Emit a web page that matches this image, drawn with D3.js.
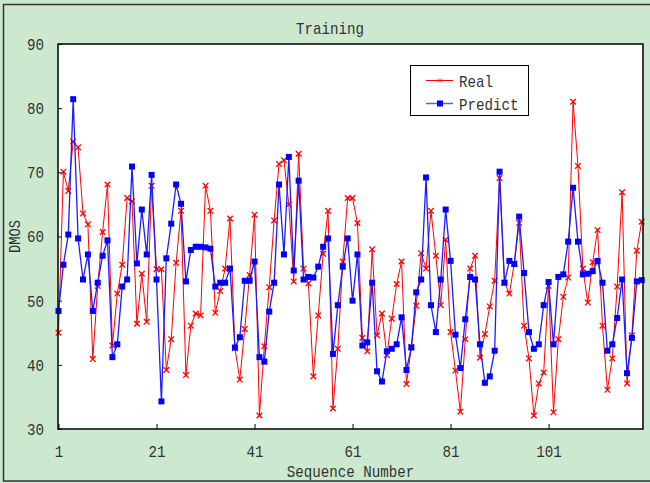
<!DOCTYPE html>
<html><head><meta charset="utf-8">
<script src="https://cdn.jsdelivr.net/npm/d3@7"></script>
<style>html,body{margin:0;padding:0;background:#cce8cf;overflow:hidden}</style>
</head><body>
<svg id="chart" width="650" height="483"></svg>
<script>
const seq = d3.range(1, 121);
const realValues = [45.0,70.1,67.1,74.8,73.9,63.6,61.9,40.9,52.3,60.7,68.1,43.0,51.1,55.6,66.0,65.5,46.4,54.2,46.7,67.9,
54.9,54.9,39.2,44.0,55.9,64.0,38.4,46.1,48.0,47.7,67.9,64.0,48.1,51.5,55.0,62.8,42.6,37.7,45.6,54.0,
63.4,32.1,42.9,52.1,62.5,71.3,71.9,65.0,53.0,72.9,55.0,52.7,38.2,47.7,57.3,64.0,33.2,42.5,56.1,66.0,
66.0,62.1,44.2,42.1,58.0,44.6,48.0,41.5,47.2,52.6,56.1,37.0,42.8,49.2,57.4,55.0,64.0,57.0,49.3,59.5,
45.1,39.1,32.7,44.0,55.0,57.0,41.1,44.8,49.1,53.1,69.1,52.8,51.1,55.8,62.1,46.1,41.0,32.1,37.1,38.8,
52.3,32.6,44.0,50.6,53.6,81.0,71.0,55.0,49.7,56.0,61.0,46.1,36.1,41.0,52.2,66.9,37.1,44.6,57.8,62.3];
const predictValues = [48.4,55.6,60.3,81.4,59.7,53.3,57.2,48.4,52.8,57.0,59.4,41.2,43.2,52.2,53.3,70.9,55.8,64.2,57.2,69.6,
53.3,34.3,56.6,62.0,68.1,65.1,53.0,57.9,58.4,58.4,58.3,58.1,52.2,52.8,52.8,55.0,42.7,44.3,53.1,53.1,
56.1,41.2,40.5,48.3,52.8,68.1,57.2,72.4,54.7,68.7,53.3,53.7,53.6,55.3,58.4,59.7,41.7,49.3,55.3,59.7,
50.0,57.2,43.0,43.5,52.8,39.0,37.4,42.1,42.5,43.2,47.4,39.2,42.7,51.3,53.3,69.2,49.3,45.1,53.3,64.2,
56.2,44.7,39.5,47.1,53.7,53.3,43.2,37.2,38.2,42.2,70.1,52.8,56.2,55.7,63.1,54.3,45.1,42.5,43.2,49.3,
52.9,43.2,53.7,54.1,59.2,67.6,59.2,54.1,54.2,54.6,56.2,52.8,42.2,43.2,47.3,53.3,38.7,44.2,53.0,53.2];
const yTicks = [30,40,50,60,70,80,90];
const xTicks = [1,21,41,61,81,101];
const seriesNames = ["Real","Predict"];
const titleText = "Training";
const xLabel = "Sequence Number";
const yLabel = "DMOS";

const svg = d3.select("#chart");
const FONT = "'Liberation Mono', monospace";
const FS = 17;
const CH = 8.5;
const L = 58, T = 44, R = 643, B = 429;
const x = d3.scaleLinear().domain([1,120]).range([58.5, 641.7]);
const y = d3.scaleLinear().domain([30,90]).range([B, T]);

svg.append("rect").attr("x",0).attr("y",0).attr("width",650).attr("height",483).attr("fill","#cce8cf");
svg.append("rect").attr("x",3.5).attr("y",4.5).attr("width",670).attr("height",476.5)
  .attr("fill","none").attr("stroke","#333").attr("stroke-width",1.5);

svg.append("rect").attr("x",L).attr("y",T).attr("width",R-L).attr("height",B-T).attr("fill","#fff");

function fitText(sel){
  sel.each(function(){
    const t = d3.select(this); const s = t.text();
    t.attr("textLength", s.length*CH).attr("lengthAdjust","spacingAndGlyphs");
  });
}

const yAxis = svg.append("g").attr("transform",`translate(${L},0)`)
  .call(d3.axisLeft(y).tickValues(yTicks).tickSize(-4).tickPadding(14).tickFormat(d3.format("d")));
const xAxis = svg.append("g").attr("transform",`translate(0,${B})`)
  .call(d3.axisBottom(x).tickValues(xTicks).tickSize(-5).tickPadding(16).tickFormat(d3.format("d")));
[yAxis,xAxis].forEach(g=>{
  g.select(".domain").remove();
  g.selectAll(".tick line").attr("stroke","#000").attr("stroke-width",1);
  g.selectAll(".tick text").attr("font-family",FONT).attr("font-size",FS).attr("fill","#333").call(fitText);
});
xAxis.selectAll(".tick text").attr("dy","0.71em");

const line = d3.line().x((d,i)=>x(seq[i])).y(d=>y(d));
const gPlot = svg.append("g");
gPlot.append("path").datum(realValues).attr("d",line).attr("fill","none")
  .attr("stroke","#ff0000").attr("stroke-width",1);
const crossPath = "M-2.8,-2.8L2.8,2.8M-2.8,2.8L2.8,-2.8";
gPlot.selectAll(".rm").data(realValues).join("path").attr("class","rm")
  .attr("d",crossPath).attr("transform",(d,i)=>`translate(${x(seq[i])},${y(d)})`)
  .attr("stroke","#ff0000").attr("stroke-width",1.3).attr("fill","none");

gPlot.append("path").datum(predictValues).attr("d",line).attr("fill","none")
  .attr("stroke","#1c1cff").attr("stroke-width",1.3);
gPlot.selectAll(".pm").data(predictValues).join("rect").attr("class","pm")
  .attr("x",(d,i)=>x(seq[i])-3).attr("y",d=>y(d)-3).attr("width",6).attr("height",6)
  .attr("fill","#0000ff");

svg.append("rect").attr("x",L).attr("y",T).attr("width",R-L).attr("height",B-T)
  .attr("fill","none").attr("stroke","#000").attr("stroke-width",1.5);

svg.append("text").attr("x",330).attr("y",34).attr("text-anchor","middle")
  .attr("font-family",FONT).attr("font-size",FS).attr("fill","#333").text(titleText).call(fitText);
svg.append("text").attr("x",(L+R)/2).attr("y",477).attr("text-anchor","middle")
  .attr("font-family",FONT).attr("font-size",FS).attr("fill","#333").text(xLabel).call(fitText);
svg.append("text").attr("transform",`translate(20,${(T+B)/2}) rotate(-90)`).attr("text-anchor","middle")
  .attr("font-family",FONT).attr("font-size",16).attr("fill","#333").text(yLabel)
  .attr("textLength",33).attr("lengthAdjust","spacingAndGlyphs");

const lg = svg.append("g");
lg.append("rect").attr("x",410.5).attr("y",65.5).attr("width",118).attr("height",50)
  .attr("fill","#fff").attr("stroke","#000").attr("stroke-width",1);
const legendRows = [
  {name: seriesNames[0], color:"#ff0000", y:80.5},
  {name: seriesNames[1], color:"#5a5aff", y:103.5}
];
legendRows.forEach((r,k)=>{
  lg.append("line").attr("x1",426).attr("x2",453).attr("y1",r.y).attr("y2",r.y)
    .attr("stroke",r.color).attr("stroke-width",k===0?1:1.5);
  if(k===0){
    lg.append("path").attr("d",crossPath).attr("transform",`translate(440,${r.y}) scale(0.7)`)
      .attr("stroke","#ff0000").attr("stroke-width",1.2).attr("fill","none");
  } else {
    lg.append("rect").attr("x",437).attr("y",r.y-3).attr("width",6).attr("height",6).attr("fill","#0000ff");
  }
  lg.append("text").attr("x",459).attr("y",r.y+6).attr("font-family",FONT).attr("font-size",FS)
    .attr("fill","#333").text(r.name).call(fitText);
});
</script>
</body></html>
